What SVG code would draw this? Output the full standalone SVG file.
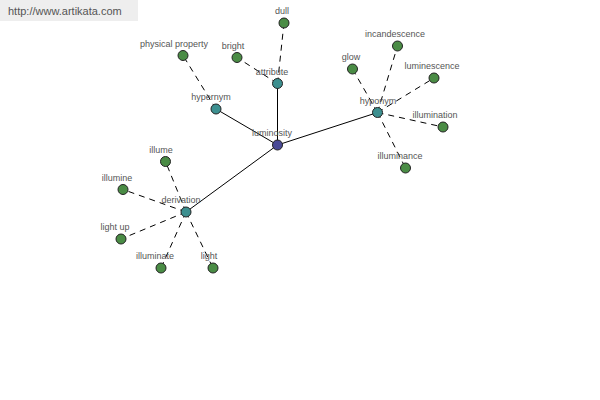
<svg xmlns="http://www.w3.org/2000/svg" width="600" height="400" viewBox="0 0 600 400">
<style>
.edge{stroke:#000;stroke-width:1;fill:none}
.dash{stroke:#000;stroke-width:1;fill:none;stroke-dasharray:6,5}
.n circle{stroke:#222;stroke-width:1}
.root circle{fill:#4a4a96}
.hub circle{fill:#3d9090}
.leaf circle{fill:#4a8c45}
text{font-family:"Liberation Sans",Arial,sans-serif;font-size:9px;fill:#555;text-anchor:middle}
.wm{font-size:11px;fill:#555;text-anchor:start}
</style>
<rect x="0" y="0" width="138" height="21" fill="#eeeeee"/>
<text class="wm" x="8" y="15">http://www.artikata.com</text>
<g id="connectors">
<line class="edge" x1="277.5" y1="145" x2="277.5" y2="83.5"/>
<line class="edge" x1="277.5" y1="145" x2="216" y2="109"/>
<line class="edge" x1="277.5" y1="145" x2="377.5" y2="112.5"/>
<line class="edge" x1="277.5" y1="145" x2="186" y2="212"/>
<line class="dash" x1="277.5" y1="83.5" x2="284" y2="23"/>
<line class="dash" x1="277.5" y1="83.5" x2="237" y2="57.5"/>
<line class="dash" x1="216" y1="109" x2="183" y2="55.5"/>
<line class="dash" x1="377.5" y1="112.5" x2="397.5" y2="46"/>
<line class="dash" x1="377.5" y1="112.5" x2="352.5" y2="69"/>
<line class="dash" x1="377.5" y1="112.5" x2="434" y2="78"/>
<line class="dash" x1="377.5" y1="112.5" x2="443" y2="127"/>
<line class="dash" x1="377.5" y1="112.5" x2="405.5" y2="168"/>
<line class="dash" x1="186" y1="212" x2="165.5" y2="161.5"/>
<line class="dash" x1="186" y1="212" x2="123" y2="189.5"/>
<line class="dash" x1="186" y1="212" x2="121" y2="239"/>
<line class="dash" x1="186" y1="212" x2="161" y2="268"/>
<line class="dash" x1="186" y1="212" x2="213" y2="268"/>
</g>
<g id="attribute" class="n hub"><circle cx="277.5" cy="83.5" r="5"/><text x="272" y="74.5">attribute</text></g>
<g id="hypernym" class="n hub"><circle cx="216" cy="109" r="5"/><text x="211" y="100">hypernym</text></g>
<g id="hyponym" class="n hub"><circle cx="377.5" cy="112.5" r="5"/><text x="378" y="103.5">hyponym</text></g>
<g id="derivation" class="n hub"><circle cx="186" cy="212" r="5"/><text x="181" y="203">derivation</text></g>
<g id="dull" class="n leaf"><circle cx="284" cy="23" r="5"/><text x="282" y="14">dull</text></g>
<g id="bright" class="n leaf"><circle cx="237" cy="57.5" r="5"/><text x="233" y="48.5">bright</text></g>
<g id="physical-property" class="n leaf"><circle cx="183" cy="55.5" r="5"/><text x="174" y="46.5">physical property</text></g>
<g id="incandescence" class="n leaf"><circle cx="397.5" cy="46" r="5"/><text x="395" y="37">incandescence</text></g>
<g id="glow" class="n leaf"><circle cx="352.5" cy="69" r="5"/><text x="351" y="60">glow</text></g>
<g id="luminescence" class="n leaf"><circle cx="434" cy="78" r="5"/><text x="432" y="69">luminescence</text></g>
<g id="illumination" class="n leaf"><circle cx="443" cy="127" r="5"/><text x="435" y="118">illumination</text></g>
<g id="illuminance" class="n leaf"><circle cx="405.5" cy="168" r="5"/><text x="400" y="159">illuminance</text></g>
<g id="illume" class="n leaf"><circle cx="165.5" cy="161.5" r="5"/><text x="161" y="152.5">illume</text></g>
<g id="illumine" class="n leaf"><circle cx="123" cy="189.5" r="5"/><text x="117" y="180.5">illumine</text></g>
<g id="light-up" class="n leaf"><circle cx="121" cy="239" r="5"/><text x="115" y="230">light up</text></g>
<g id="illuminate" class="n leaf"><circle cx="161" cy="268" r="5"/><text x="155" y="259">illuminate</text></g>
<g id="light" class="n leaf"><circle cx="213" cy="268" r="5"/><text x="209" y="259">light</text></g>
<g id="luminosity" class="n root"><circle cx="277.5" cy="145" r="5"/><text x="272" y="136">luminosity</text></g>
</svg>
